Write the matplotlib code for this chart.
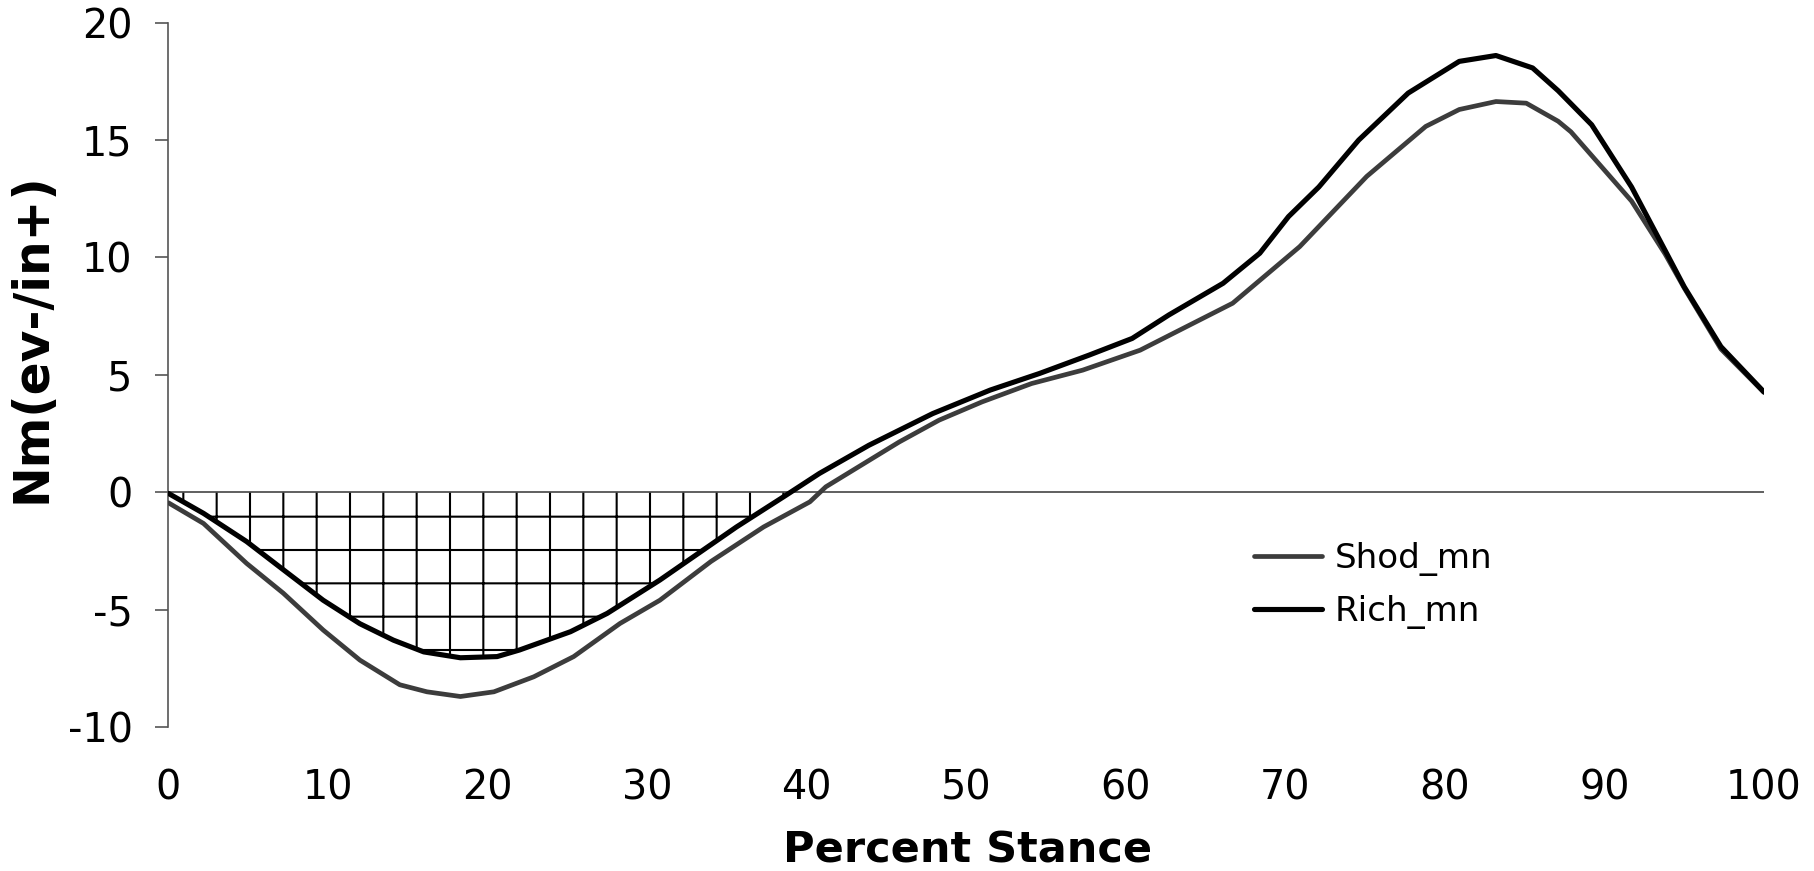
import matplotlib

matplotlib.use("Agg")
import matplotlib.pyplot as plt
import numpy as np

# values (percent stance, Nm)
rich_x = [0, 2.2, 4.9, 7.2, 9.7, 12.0, 14.1, 16.0, 18.3, 20.6, 22.0, 25.2, 27.5, 30.8,
          35.6, 38.7, 40.8, 43.9, 47.9, 51.5, 54.6, 57.7, 60.4, 62.7, 66.1, 68.4, 70.2,
          72.1, 74.6, 77.7, 80.9, 83.2, 85.5, 87.1, 89.2, 91.7, 93.8, 95.0, 97.3, 100]
rich_y = [-0.05, -0.9, -2.1, -3.3, -4.6, -5.6, -6.3, -6.8, -7.05, -7.0, -6.72, -5.94, -5.16, -3.74,
          -1.48, -0.13, 0.8, 2.0, 3.35, 4.35, 5.06, 5.84, 6.55, 7.55, 8.9, 10.18, 11.74,
          13.0, 15.0, 17.0, 18.35, 18.6, 18.07, 17.1, 15.65, 13.0, 10.3, 8.75, 6.2, 4.27]

shod_x = [0, 2.2, 4.9, 7.2, 9.7, 12.0, 14.5, 16.2, 18.3, 20.4, 22.9, 25.4, 28.3, 30.8,
          34.0, 37.3, 40.2, 41.2, 45.8, 48.3, 51.0, 54.1, 57.3, 60.9, 66.7, 70.9, 75.1,
          78.8, 80.9, 83.2, 85.1, 87.1, 87.9, 91.7, 93.8, 95.0, 97.3, 100]
shod_y = [-0.45, -1.33, -3.03, -4.3, -5.87, -7.15, -8.2, -8.5, -8.7, -8.5, -7.86, -7.0, -5.59, -4.6,
          -2.95, -1.48, -0.41, 0.23, 2.14, 3.07, 3.85, 4.63, 5.2, 6.05, 8.05, 10.46, 13.45,
          15.58, 16.3, 16.64, 16.57, 15.8, 15.35, 12.4, 10.15, 8.7, 6.1, 4.25]

y_ticks = [-10, -5, 0, 5, 10, 15, 20]
x_ticks = [0, 10, 20, 30, 40, 50, 60, 70, 80, 90, 100]

plt.rcParams["font.family"] = ["DejaVu Sans"]
plt.rcParams["axes.unicode_minus"] = False
plt.rcParams["hatch.linewidth"] = 0.75

fig = plt.figure(figsize=(9.075, 4.355), dpi=200)
ax = fig.add_axes([0.0928, 0.1653, 0.9719 - 0.0928, 0.974 - 0.1653])

rx = np.array(rich_x)
ry = np.array(rich_y)
ax.fill_between(rx, ry, 0, where=ry <= 0, interpolate=True, facecolor="white",
                edgecolor="black", hatch="+", linewidth=0, zorder=1)
ax.axhline(0, color="#444444", lw=0.6, zorder=2)

ax.plot(shod_x, shod_y, color="#3c3c3c", lw=1.7, label="Shod_mn", zorder=3,
        solid_capstyle="round", solid_joinstyle="round")
ax.plot(rich_x, rich_y, color="black", lw=1.85, label="Rich_mn", zorder=4,
        solid_capstyle="round", solid_joinstyle="round")

ax.set_xlim(0, 100)
ax.set_ylim(-10, 20)
ax.set_xticks(x_ticks)
ax.set_yticks(y_ticks)
ax.tick_params(axis="x", length=0, pad=15, labelsize=14.3)
ax.tick_params(axis="y", direction="out", length=4.7, width=0.6, color="#555555",
               pad=8.2, labelsize=14.3)

for side in ["top", "right", "bottom"]:
    ax.spines[side].set_visible(False)
ax.spines["left"].set_color("#555555")
ax.spines["left"].set_linewidth(0.6)

fig.text(0.5333, 0.0092, "Percent Stance", ha="center", va="baseline",
         fontsize=15.5, fontweight="bold")
fig.text(0.0176, 0.612, "Nm(ev-/in+)", ha="center", va="center", rotation=90,
         fontsize=17.5, fontweight="bold")

ax.legend(loc="upper left", bbox_to_anchor=(0.6909, 0.378), bbox_transform=fig.transFigure,
          frameon=False, fontsize=12.3, handlelength=2.0, handletextpad=0.35,
          labelspacing=0.56, borderpad=0, borderaxespad=0)

fig.savefig("out.png", dpi=200)
